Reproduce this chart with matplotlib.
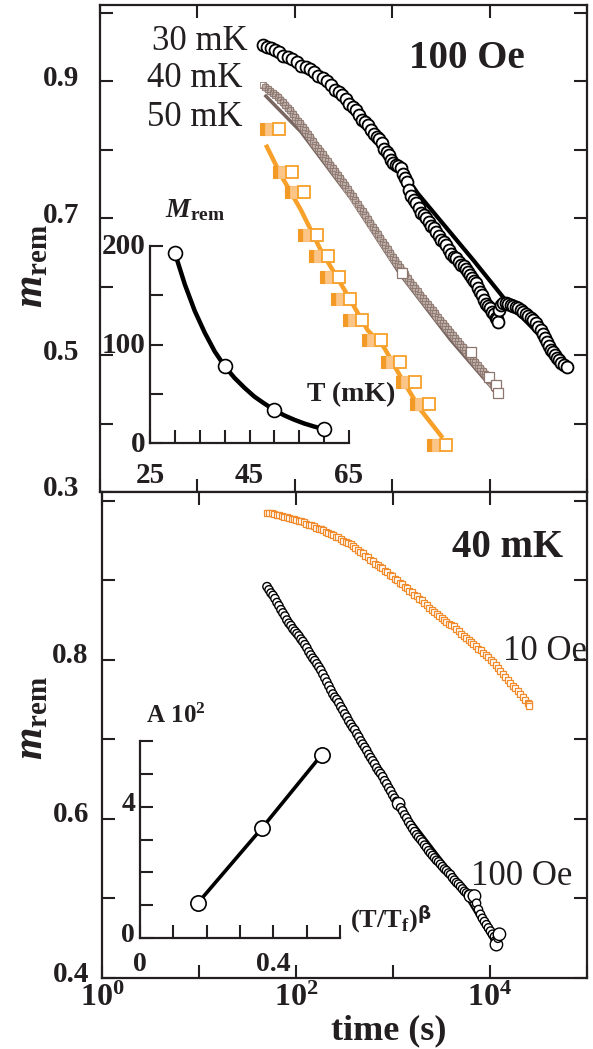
import numpy as np
import matplotlib
matplotlib.use("Agg")
import matplotlib.pyplot as plt
from matplotlib.transforms import ScaledTranslation
from matplotlib.ticker import FixedLocator, NullLocator

# ---------------- data ----------------
# top panel, 100 Oe: remanent magnetisation vs log10(time / s)
log_t_30mk = [1.672, 1.713, 1.754, 1.795, 1.836, 1.882, 1.928, 1.975, 2.021, 2.067,
              2.113, 2.154, 2.195, 2.241, 2.287, 2.328, 2.369, 2.410, 2.451, 2.487,
              2.523, 2.559, 2.595, 2.626, 2.656, 2.687, 2.718, 2.749, 2.779, 2.810,
              2.841, 2.867, 2.892, 2.918, 2.944, 2.965, 2.985, 3.010, 3.036, 3.062,
              3.087, 3.108, 3.128, 3.149, 3.169, 3.195, 3.221, 3.247, 3.272, 3.298,
              3.323, 3.349, 3.374, 3.400, 3.426, 3.452, 3.477, 3.503, 3.528, 3.554,
              3.579, 3.605, 3.631, 3.657, 3.682, 3.708, 3.733, 3.754, 3.774, 3.795,
              3.815, 3.836, 3.856, 3.877, 3.897, 3.918, 3.938, 3.959, 3.979, 4.000,
              4.021, 4.041, 4.062, 4.072, 4.082, 4.098, 4.113, 4.139, 4.164, 4.190,
              4.215, 4.241, 4.267, 4.292, 4.318, 4.344, 4.369, 4.395, 4.421, 4.447,
              4.472, 4.497, 4.523, 4.544, 4.564, 4.585, 4.605, 4.626, 4.646, 4.667,
              4.687, 4.708, 4.728, 4.759, 4.790]
m_30mk = [0.953, 0.949, 0.948, 0.946, 0.942, 0.937, 0.935, 0.932, 0.928, 0.922,
          0.920, 0.918, 0.913, 0.907, 0.904, 0.900, 0.894, 0.887, 0.884, 0.880,
          0.874, 0.866, 0.862, 0.857, 0.850, 0.843, 0.840, 0.836, 0.828, 0.822,
          0.818, 0.815, 0.809, 0.801, 0.796, 0.792, 0.785, 0.781, 0.777, 0.776,
          0.773, 0.764, 0.758, 0.752, 0.741, 0.732, 0.726, 0.722, 0.715, 0.708,
          0.704, 0.700, 0.694, 0.688, 0.685, 0.680, 0.674, 0.668, 0.665, 0.660,
          0.653, 0.648, 0.643, 0.641, 0.636, 0.632, 0.630, 0.626, 0.621, 0.617,
          0.612, 0.608, 0.605, 0.598, 0.592, 0.587, 0.580, 0.575, 0.572, 0.568,
          0.563, 0.560, 0.554, 0.552, 0.548, 0.566, 0.573, 0.576, 0.576, 0.574,
          0.573, 0.572, 0.570, 0.568, 0.566, 0.563, 0.560, 0.557, 0.554, 0.551,
          0.547, 0.541, 0.536, 0.531, 0.525, 0.519, 0.513, 0.508, 0.504, 0.500,
          0.496, 0.492, 0.488, 0.485, 0.482]
log_t_30mk_fit = [1.672, 2.062, 2.369, 2.882, 3.262, 3.836, 4.164, 4.595]
m_30mk_fit = [0.953, 0.928, 0.890, 0.814, 0.736, 0.638, 0.580, 0.517]

log_t_40mk = [1.672, 1.698, 1.723, 1.749, 1.774, 1.800, 1.826, 1.851, 1.877, 1.902,
              1.928, 1.954, 1.979, 2.005, 2.031, 2.056, 2.082, 2.108, 2.133, 2.159,
              2.185, 2.210, 2.236, 2.261, 2.287, 2.313, 2.338, 2.364, 2.390, 2.415,
              2.441, 2.467, 2.492, 2.518, 2.544, 2.569, 2.595, 2.620, 2.646, 2.672,
              2.697, 2.723, 2.749, 2.774, 2.800, 2.826, 2.851, 2.877, 2.903, 2.928,
              2.954, 2.979, 3.005, 3.031, 3.056, 3.082, 3.108, 3.133, 3.159, 3.185,
              3.210, 3.236, 3.262, 3.287, 3.313, 3.338, 3.364, 3.390, 3.415, 3.441,
              3.467, 3.492, 3.518, 3.544, 3.569, 3.595, 3.621, 3.646, 3.672, 3.697,
              3.723, 3.749, 3.774, 3.800, 3.826, 3.851, 3.877, 3.903, 3.928, 3.954,
              3.979, 4.005, 4.031, 4.056, 4.082]
m_40mk = [0.894, 0.891, 0.888, 0.885, 0.882, 0.880, 0.877, 0.873, 0.869, 0.865,
          0.861, 0.857, 0.852, 0.847, 0.842, 0.838, 0.833, 0.828, 0.823, 0.818,
          0.812, 0.807, 0.802, 0.798, 0.793, 0.788, 0.783, 0.778, 0.773, 0.768,
          0.763, 0.758, 0.753, 0.748, 0.742, 0.737, 0.732, 0.726, 0.720, 0.715,
          0.710, 0.705, 0.699, 0.693, 0.687, 0.682, 0.677, 0.671, 0.665, 0.660,
          0.655, 0.649, 0.643, 0.638, 0.633, 0.628, 0.623, 0.618, 0.612, 0.607,
          0.602, 0.598, 0.593, 0.588, 0.583, 0.579, 0.574, 0.570, 0.566, 0.561,
          0.555, 0.551, 0.547, 0.543, 0.538, 0.534, 0.529, 0.525, 0.520, 0.516,
          0.512, 0.508, 0.503, 0.499, 0.494, 0.490, 0.485, 0.481, 0.477, 0.473,
          0.468, 0.463, 0.458, 0.452, 0.446]
log_t_40mk_big = [3.100, 3.805, 3.990, 4.062, 4.082]
m_40mk_big = [0.620, 0.504, 0.468, 0.456, 0.444]
log_t_40mk_fit = [1.703, 2.062, 2.574, 3.087, 3.600, 4.062]
m_40mk_fit = [0.878, 0.826, 0.729, 0.617, 0.522, 0.446]

log_t_50mk = [1.774, 1.908, 2.031, 2.164, 2.277, 2.390, 2.503, 2.626, 2.821,
              3.015, 3.169, 3.313, 3.487]
m_50mk = [0.830, 0.767, 0.738, 0.675, 0.645, 0.614, 0.582, 0.551, 0.522,
          0.490, 0.461, 0.428, 0.369]
log_t_50mk_fit = [1.703, 1.856, 2.062, 2.267, 2.523, 2.749, 2.913, 3.087, 3.292, 3.518]
m_50mk_fit = [0.807, 0.763, 0.712, 0.653, 0.592, 0.536, 0.512, 0.468, 0.420, 0.379]

# top inset: M_rem vs temperature
T_mK = [30, 40, 50, 60]
M_rem = [193, 78, 33.5, 14]
T_mK_fit = [30, 32, 34, 36, 38, 40, 42, 44, 46, 48, 50, 52, 54, 56, 58, 60]
M_rem_fit = [193, 161, 134, 112, 93, 78, 66, 56, 47, 40, 33.5, 28, 23.6, 19.8, 16.7, 14]

# bottom panel, 40 mK
log_t_10oe = [1.700, 1.725, 1.751, 1.776, 1.801, 1.827, 1.852, 1.877, 1.903, 1.928,
              1.954, 1.979, 2.004, 2.030, 2.055, 2.080, 2.106, 2.131, 2.156, 2.182,
              2.207, 2.232, 2.258, 2.283, 2.308, 2.334, 2.359, 2.384, 2.410, 2.435,
              2.461, 2.486, 2.511, 2.537, 2.562, 2.587, 2.613, 2.638, 2.663, 2.689,
              2.714, 2.739, 2.765, 2.790, 2.815, 2.841, 2.866, 2.891, 2.917, 2.942,
              2.968, 2.993, 3.018, 3.044, 3.069, 3.094, 3.120, 3.145, 3.170, 3.196,
              3.221, 3.246, 3.272, 3.297, 3.322, 3.348, 3.373, 3.398, 3.424, 3.449,
              3.475, 3.500, 3.525, 3.551, 3.576, 3.601, 3.627, 3.652, 3.677, 3.703,
              3.728, 3.753, 3.779, 3.804, 3.829, 3.855, 3.880, 3.905, 3.931, 3.956,
              3.981, 4.007, 4.032, 4.057, 4.083, 4.108, 4.134, 4.159, 4.184, 4.210,
              4.235, 4.260, 4.286, 4.311, 4.336, 4.362, 4.387, 4.397, 4.406]
m_10oe = [0.985, 0.985, 0.984, 0.983, 0.982, 0.982, 0.981, 0.980, 0.979, 0.978,
          0.977, 0.977, 0.976, 0.975, 0.974, 0.973, 0.971, 0.970, 0.969, 0.968,
          0.966, 0.965, 0.964, 0.963, 0.961, 0.960, 0.958, 0.957, 0.955, 0.954,
          0.952, 0.950, 0.948, 0.947, 0.945, 0.943, 0.940, 0.938, 0.936, 0.934,
          0.931, 0.929, 0.926, 0.924, 0.921, 0.919, 0.917, 0.915, 0.912, 0.910,
          0.907, 0.905, 0.902, 0.900, 0.897, 0.895, 0.892, 0.890, 0.887, 0.885,
          0.882, 0.880, 0.877, 0.875, 0.872, 0.869, 0.865, 0.863, 0.860, 0.858,
          0.855, 0.853, 0.850, 0.848, 0.845, 0.844, 0.842, 0.839, 0.836, 0.833,
          0.830, 0.828, 0.825, 0.823, 0.820, 0.817, 0.814, 0.812, 0.809, 0.806,
          0.803, 0.800, 0.797, 0.794, 0.790, 0.786, 0.782, 0.779, 0.775, 0.771,
          0.767, 0.764, 0.761, 0.757, 0.753, 0.750, 0.746, 0.744, 0.742]

log_t_100oe = [1.701, 1.722, 1.742, 1.763, 1.783, 1.804, 1.824, 1.845, 1.865, 1.886,
               1.906, 1.927, 1.948, 1.968, 1.989, 2.010, 2.030, 2.051, 2.071, 2.092,
               2.112, 2.133, 2.153, 2.174, 2.194, 2.215, 2.236, 2.256, 2.277, 2.298,
               2.318, 2.339, 2.359, 2.380, 2.400, 2.421, 2.441, 2.462, 2.482, 2.503,
               2.524, 2.544, 2.565, 2.585, 2.606, 2.627, 2.647, 2.668, 2.688, 2.709,
               2.729, 2.750, 2.770, 2.791, 2.811, 2.832, 2.853, 2.873, 2.894, 2.914,
               2.935, 2.956, 2.976, 2.997, 3.017, 3.038, 3.058, 3.079, 3.099, 3.120,
               3.141, 3.161, 3.182, 3.202, 3.223, 3.244, 3.264, 3.285, 3.305, 3.326,
               3.346, 3.367, 3.387, 3.408, 3.429, 3.449, 3.470, 3.490, 3.511, 3.532,
               3.552, 3.573, 3.593, 3.614, 3.634, 3.655, 3.675, 3.696, 3.717, 3.737,
               3.758, 3.779, 3.799, 3.820, 3.840, 3.861, 3.881, 3.902, 3.922, 3.943,
               3.963, 3.984, 4.005, 4.025, 4.046, 4.056, 4.066, 4.082, 4.097]
m_100oe = [0.892, 0.888, 0.884, 0.881, 0.877, 0.872, 0.868, 0.863, 0.859, 0.855,
           0.850, 0.846, 0.843, 0.839, 0.836, 0.833, 0.830, 0.826, 0.823, 0.819,
           0.815, 0.810, 0.806, 0.802, 0.799, 0.795, 0.791, 0.787, 0.782, 0.777,
           0.772, 0.767, 0.762, 0.757, 0.753, 0.750, 0.746, 0.741, 0.737, 0.732,
           0.728, 0.723, 0.719, 0.715, 0.712, 0.707, 0.703, 0.698, 0.694, 0.690,
           0.686, 0.681, 0.677, 0.673, 0.669, 0.664, 0.660, 0.657, 0.653, 0.648,
           0.644, 0.639, 0.635, 0.630, 0.626, 0.622, 0.619, 0.614, 0.610, 0.605,
           0.601, 0.596, 0.592, 0.588, 0.584, 0.580, 0.577, 0.574, 0.571, 0.567,
           0.564, 0.560, 0.557, 0.554, 0.551, 0.548, 0.546, 0.543, 0.540, 0.537,
           0.535, 0.532, 0.530, 0.526, 0.523, 0.520, 0.518, 0.515, 0.512, 0.509,
           0.507, 0.505, 0.503, 0.503, 0.503, 0.494, 0.486, 0.480, 0.475, 0.471,
           0.467, 0.463, 0.459, 0.455, 0.452, 0.447, 0.442, 0.450, 0.455]
log_t_100oe_fit = [1.701, 2.350, 3.069, 3.583, 4.015]
m_100oe_fit = [0.888, 0.765, 0.618, 0.536, 0.448]
big_100oe = [66, 102, 104, 116, 118]   # points drawn with larger circles

# bottom inset: amplitude A (x10^2) vs (T/Tf)^beta
x_scaled_T = [0.174, 0.366, 0.545]
A_1e2 = [1.07, 3.35, 5.58]

# tick labels
top_ytick_vals = [0.3, 0.4, 0.5, 0.6, 0.7, 0.8, 0.9, 1.0]
top_ytick_labels = ["0.3", "", "0.5", "", "0.7", "", "0.9", ""]
bot_ytick_vals = [0.4, 0.5, 0.6, 0.7, 0.8, 0.9, 1.0]
bot_ytick_labels = ["0.4", "", "0.6", "", "0.8", "", ""]
xtick_vals = [1e0, 1e1, 1e2, 1e3, 1e4, 1e5]
xtick_labels = [r"$\mathbf{10^{0}}$", "", r"$\mathbf{10^{2}}$", "",
                r"$\mathbf{10^{4}}$", ""]
inset1_xticks = [25, 30, 35, 40, 45, 50, 55, 60, 65]
inset1_xlabels = ["25", "", "", "", "45", "", "", "", "65"]
inset1_yticks = [0, 50, 100, 150, 200]
inset1_ylabels = ["0", "", "100", "", "200"]
inset2_xticks = [0, 0.1, 0.2, 0.3, 0.4, 0.5, 0.6]
inset2_xlabels = ["0", "", "", "", "0.4", "", ""]
inset2_yticks = [0, 1, 2, 3, 4, 5, 6]
inset2_ylabels = ["0", "", "", "", "4", "", ""]

# ---------------- style ----------------
plt.rcParams["font.family"] = ["Liberation Serif", "DejaVu Serif"]
plt.rcParams["font.weight"] = "bold"
plt.rcParams["mathtext.fontset"] = "custom"
plt.rcParams["mathtext.rm"] = "Liberation Serif:bold"
plt.rcParams["mathtext.bf"] = "Liberation Serif:bold"
plt.rcParams["mathtext.it"] = "Liberation Serif:italic:bold"
plt.rcParams["mathtext.sf"] = "DejaVu Sans:bold"

INK = "#231f20"
ORANGE = "#f7a02a"
ORANGE2 = "#f08a2a"
BROWN = "#8c766e"

W, H = 593, 1049
DPI = 100
fig = plt.figure(figsize=(W / DPI, H / DPI), dpi=DPI)


def rect(left, top, right, bottom):
    return [left / W, 1 - bottom / H, (right - left) / W, (bottom - top) / H]


def fxy(x, y):
    return x / W, 1 - y / H


def t(vals):
    return 10 ** np.asarray(vals)


def shifted(ax, dx_px):
    return ax.transData + ScaledTranslation(dx_px / DPI, 0, fig.dpi_scale_trans)


def raise_ylabels(ax, dy_px):
    off = ScaledTranslation(0, dy_px / DPI, fig.dpi_scale_trans)
    for lab in ax.get_yticklabels():
        lab.set_transform(lab.get_transform() + off)


ax1 = fig.add_axes(rect(100, 5, 587, 492))
ax2 = fig.add_axes(rect(102, 492, 587, 978))

for ax in (ax1, ax2):
    ax.set_xscale("log")
    ax.set_xlim(1, 1e5)
    ax.xaxis.set_major_locator(FixedLocator(xtick_vals))
    ax.xaxis.set_minor_locator(NullLocator())
    ax.yaxis.set_minor_locator(NullLocator())
    ax.tick_params(which="major", direction="in", length=9.5, width=1.5,
                   top=True, right=True, colors=INK, labelsize=21)
    for sp in ax.spines.values():
        sp.set_linewidth(1.6)
        sp.set_color(INK)

ax1.set_ylim(0.3, 1.011)
ax1.set_yticks(top_ytick_vals, top_ytick_labels)
ax1.set_xticklabels([])
ax1.tick_params(axis="y", pad=15)

ax2.set_ylim(0.4, 1.011)
ax2.set_yticks(bot_ytick_vals, bot_ytick_labels)
ax2.set_xticks(xtick_vals, xtick_labels)
ax2.tick_params(axis="y", pad=9.5)
ax2.tick_params(axis="x", labelsize=23, pad=4)

raise_ylabels(ax1, 6)
raise_ylabels(ax2, 7)

# ---- top panel curves ----
ax1.plot(t(log_t_40mk_fit), m_40mk_fit, color="#7a6660", lw=2.5, zorder=2)
ax1.plot(t(log_t_40mk), m_40mk, color="#bcaea7", lw=6, zorder=2.5,
         solid_capstyle="butt")
ax1.plot(t(log_t_40mk), m_40mk, ls="none", marker="s", ms=4.5, mfc="none",
         mec=BROWN, mew=0.6, zorder=3)
ax1.plot(t(log_t_40mk_big), m_40mk_big, ls="none", marker="s", ms=7, mfc="white",
         mec=BROWN, mew=0.9, zorder=3)

ax1.plot(t(log_t_50mk_fit), m_50mk_fit, color=ORANGE, lw=3.2, zorder=3.5,
         solid_capstyle="butt")
ax1.plot(t(log_t_50mk), m_50mk, ls="none", marker="s", ms=8, mfc="#f39a26",
         mec="#f39a26", mew=0.8, zorder=4, transform=shifted(ax1, -7))
ax1.plot(t(log_t_50mk), m_50mk, ls="none", marker="s", ms=8, mfc="#fbc587",
         mec="#fbc587", mew=0.5, zorder=4.1, transform=shifted(ax1, -2))
ax1.plot(t(log_t_50mk), m_50mk, ls="none", marker="s", ms=8, mfc="white",
         mec=ORANGE, mew=1.3, zorder=4.2, transform=shifted(ax1, 6))

ax1.plot(t(log_t_30mk_fit), m_30mk_fit, color="black", lw=3, zorder=5)
ax1.plot(t(log_t_30mk), m_30mk, ls="none", marker="o", ms=8.6, mfc="white",
         mec="black", mew=1.3, zorder=6)

# ---- bottom panel curves ----
ax2.plot(t(log_t_10oe), m_10oe, ls="none", marker="s", ms=5, mfc="white",
         mec=ORANGE2, mew=0.9, zorder=3)
ax2.plot(t(log_t_100oe_fit), m_100oe_fit, color="black", lw=1.5, zorder=3)
sizes_100oe = [36] * len(m_100oe)
for i in big_100oe:
    sizes_100oe[i] = 80
ax2.scatter(t(log_t_100oe), m_100oe, s=sizes_100oe, facecolors="white",
            edgecolors="black", linewidths=1.0, zorder=4)

# ---- panel annotations ----
regular = dict(color=INK, fontweight="normal", fontsize=25)
fig.text(*fxy(248, 50), "30 mK", ha="right", va="baseline", **regular)
fig.text(*fxy(243, 87), "40 mK", ha="right", va="baseline", **regular)
fig.text(*fxy(243, 126), "50 mK", ha="right", va="baseline", **regular)
fig.text(*fxy(525, 68), "100 Oe", ha="right", va="baseline", color=INK,
         fontweight="bold", fontsize=28)
fig.text(*fxy(563, 557), "40 mK", ha="right", va="baseline", color=INK,
         fontweight="bold", fontsize=28)
fig.text(*fxy(587, 660), "10 Oe", ha="right", va="baseline", **regular)
fig.text(*fxy(572, 885), "100 Oe", ha="right", va="baseline", **regular)

# axis labels
fig.text(*fxy(32, 266), r"$m_{\mathbf{rem}}$", rotation=90, ha="center",
         va="center", fontsize=30, color=INK)
fig.text(*fxy(32, 718), r"$m_{\mathbf{rem}}$", rotation=90, ha="center",
         va="center", fontsize=30, color=INK)
fig.text(*fxy(389, 1039), "time (s)", ha="center", va="baseline", fontsize=26,
         color=INK)

# ---- top inset ----
axi1 = fig.add_axes(rect(150, 246, 349, 443))
axi1.patch.set_alpha(0)
axi1.set_xlim(25, 65)
axi1.set_ylim(0, 200)
axi1.set_xticks(inset1_xticks, inset1_xlabels)
axi1.set_yticks(inset1_yticks, inset1_ylabels)
axi1.plot(T_mK_fit, M_rem_fit, color="black", lw=3.2, zorder=2, clip_on=False)
axi1.plot(T_mK, M_rem, ls="none", marker="o", ms=10, mfc="white", mec="black",
          mew=1.2, zorder=3, clip_on=False)
fig.text(*fxy(165, 217), r"$M_{\mathbf{rem}}$", ha="left", va="baseline",
         fontsize=20, color=INK)
fig.text(*fxy(307, 401), "T (mK)", ha="left", va="baseline", fontsize=20,
         color=INK)

# ---- bottom inset ----
axi2 = fig.add_axes(rect(140, 741, 340, 938))
axi2.patch.set_alpha(0)
axi2.set_xlim(0, 0.6)
axi2.set_ylim(0, 6)
axi2.set_xticks(inset2_xticks, inset2_xlabels)
axi2.set_yticks(inset2_yticks, inset2_ylabels)
axi2.plot(x_scaled_T, A_1e2, color="black", lw=2.6, zorder=2)
axi2.plot(x_scaled_T, A_1e2, ls="none", marker="o", ms=11, mfc="white",
          mec="black", mew=1.2, zorder=3, clip_on=False)
fig.text(*fxy(146, 723), r"$\mathbf{A\ 10^{2}}$", ha="left", va="baseline",
         fontsize=18, color=INK)
fig.text(*fxy(350, 928), r"$\mathbf{(T/T}_{\mathbf{f}}\mathbf{)}^{\mathsf{\beta}}$",
         ha="left", va="baseline", fontsize=19, color=INK)

for axi, xpad, lsize in ((axi1, 14, 21), (axi2, 10, 20)):
    axi.spines["top"].set_visible(False)
    axi.spines["right"].set_visible(False)
    for side in ("left", "bottom"):
        axi.spines[side].set_linewidth(1.6)
        axi.spines[side].set_color(INK)
    axi.tick_params(direction="in", length=9.5, width=1.5, colors=INK,
                    labelsize=lsize)
    axi.tick_params(axis="x", pad=xpad)
    axi.tick_params(axis="y", pad=3.5)

raise_ylabels(axi1, 2)
raise_ylabels(axi2, 5)

fig.savefig("out.png", dpi=DPI)
